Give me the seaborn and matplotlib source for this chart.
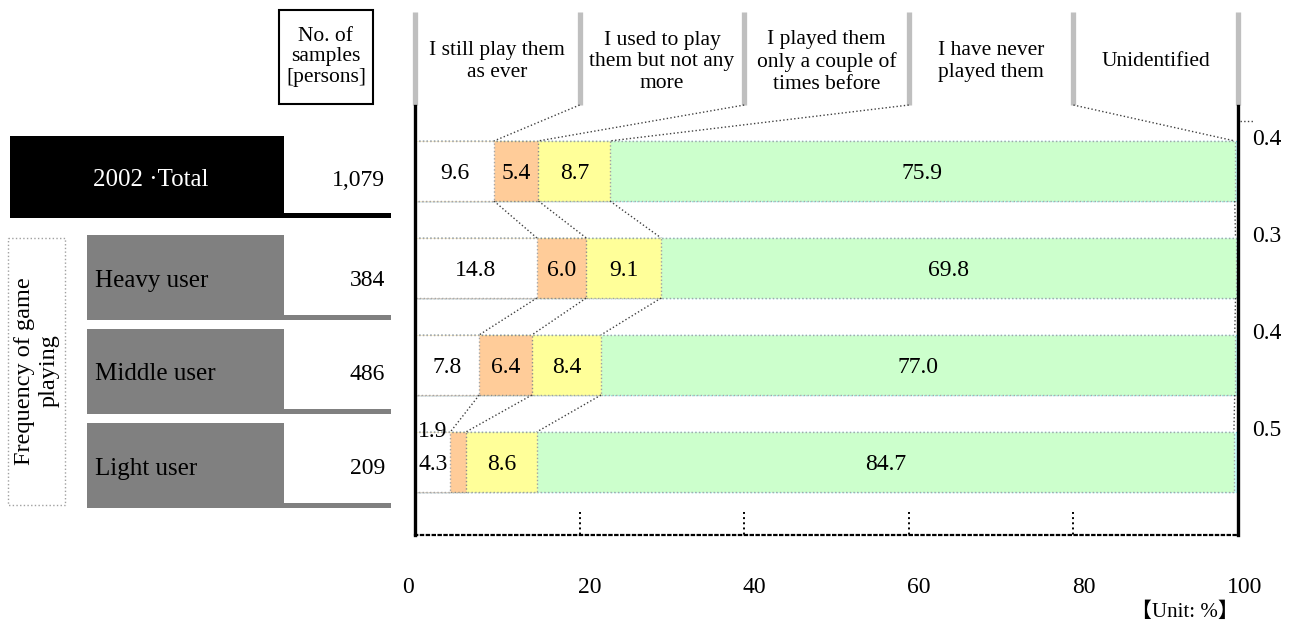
import numpy as np
import pandas as pd
import matplotlib
matplotlib.use("Agg")
import matplotlib.pyplot as plt
import matplotlib.transforms as mtransforms
from matplotlib.patches import Rectangle
import seaborn as sns

# ---- data -------------------------------------------------------------
groups = ["2002 \u00b7Total", "Heavy user", "Middle user", "Light user"]
n_samples = ["1,079", "384", "486", "209"]
responses = [
    "I still play them\nas ever",
    "I used to play\nthem but not any\nmore",
    "I played them\nonly a couple of\ntimes before",
    "I have never\nplayed them",
    "Unidentified",
]
still_play = [9.6, 14.8, 7.8, 4.3]
used_to_play = [5.4, 6.0, 6.4, 1.9]
couple_times = [8.7, 9.1, 8.4, 8.6]
never_played = [75.9, 69.8, 77.0, 84.7]
unidentified = [0.4, 0.3, 0.4, 0.5]
x_ticks = [0, 20, 40, 60, 80, 100]

seg_colors = ["#FFFFFF", "#FFCC99", "#FFFF99", "#CCFFCC", "#CCFFFF"]
edge_colors = ["#A6A6A6", "#8C8C8C", "#A0A0A0", "#A6A6A6", "#55C8E8"]

# ---- style ------------------------------------------------------------
sns.set_theme(style="white")
plt.rcParams["font.family"] = ["Liberation Serif", "Noto Sans CJK JP", "DejaVu Sans"]
plt.rcParams["text.color"] = "black"

W, H = 1294, 625
fig = plt.figure(figsize=(W / 100, H / 100), dpi=100)

# background layer in pixel units for the side panels
bg = fig.add_axes([0, 0, 1, 1])
bg.set_xlim(0, W)
bg.set_ylim(H, 0)
bg.axis("off")

ax = fig.add_axes([415 / W, 1 - 535 / H, 823 / W, 429 / H])
ax.patch.set_visible(False)

series = [still_play, used_to_play, couple_times, never_played, unidentified]
cum = np.cumsum(np.array(series), axis=0)
bar_w = 0.62
half = bar_w / 2

# stacked bars: draw cumulative totals from the widest down
for k in range(len(series) - 1, -1, -1):
    df = pd.DataFrame({"group": groups, "cum": cum[k]})
    sns.barplot(data=df, x="cum", y="group", orient="h", color=seg_colors[k],
                saturation=1, width=bar_w, errorbar=None, ax=ax,
                edgecolor=edge_colors[k], linewidth=1.0, linestyle=":", zorder=2)

ax.set_xlim(0, 100)
ax.set_ylim(3.753, -0.670)
ax.set_xlabel("")
ax.set_ylabel("")
ax.set_yticks([])
ax.set_xticks(x_ticks, labels=[str(t) for t in x_ticks])
ax.tick_params(axis="x", length=0, pad=30, labelsize=17, labelcolor="black")
for s in ["left", "right"]:
    ax.spines[s].set_color("black")
    ax.spines[s].set_linewidth(2.4)
ax.spines["top"].set_visible(False)
ax.spines["bottom"].set_color("black")
ax.spines["bottom"].set_linestyle(":")
ax.spines["bottom"].set_linewidth(1.6)

tick_shift = {0: -7, 20: 10, 40: 10, 60: 10, 80: 10, 100: 7}
for lab, t in zip(ax.get_xticklabels(), x_ticks):
    lab.set_transform(lab.get_transform() +
                      mtransforms.ScaledTranslation(tick_shift[t] / 100, 0, fig.dpi_scale_trans))

# short dotted gridline stubs above the axis
ax.vlines(x_ticks[1:-1], 3.515, 3.753, colors="black", linestyles=":", linewidth=1.4, zorder=3)

# header: grey dividers and category captions
head_top, head_bot = -1.639, -0.68
ax.vlines(x_ticks, head_top, head_bot, colors="#BFBFBF", linewidth=3.8, clip_on=False)
for k, txt in enumerate(responses):
    xc = (x_ticks[k] + x_ticks[k + 1]) / 2
    ax.text(xc, -1.125, txt, ha="center", va="center", fontsize=15.5,
            linespacing=1.2, clip_on=False)

# leader lines: header dividers to first bar, and bar-to-bar boundaries
dot_kw = dict(ls=":", color="#404040", lw=1.0, clip_on=False, zorder=4)
for k in range(4):
    ax.plot([x_ticks[k + 1], cum[k][0]], [head_bot, -half], **dot_kw)
    for i in range(len(groups) - 1):
        ax.plot([cum[k][i], cum[k][i + 1]], [i + half, i + 1 - half], **dot_kw)
ax.plot([100.2, 101.8], [-0.515, -0.515], **dot_kw)

# value labels
for i in range(len(groups)):
    start = 0.0
    for k in range(4):
        v = series[k][i]
        if v >= 3:
            ax.text(start + v / 2, i + 0.03, f"{v:.1f}", ha="center", va="center",
                    fontsize=17, zorder=5)
        else:
            ax.text(start - 2.1, i - 0.31, f"{v:.1f}", ha="center", va="center",
                    fontsize=17, zorder=5, clip_on=False)
        start += v
    ax.text(103.5, i - 0.32, f"{unidentified[i]:.1f}", ha="center", va="center",
            fontsize=17, clip_on=False)

# ---- left panel -------------------------------------------------------
rows = [(136, 218), (235, 320), (329, 414), (423, 508)]
for i, (g, n) in enumerate(zip(groups, n_samples)):
    y0, y1 = rows[i]
    face = "black" if i == 0 else "#808080"
    x0 = 10 if i == 0 else 87
    bg.add_patch(Rectangle((x0, y0), 284 - x0, y1 - y0, facecolor=face, edgecolor="none"))
    inset = 0 if i == 0 else 6
    bg.add_patch(Rectangle((x0 + inset, y1 - 5), 391 - x0 - inset, 5,
                           facecolor=face, edgecolor="none"))
    yc = (y0 + y1) / 2 + 3
    bg.text(93 if i == 0 else 95, yc, g, ha="left", va="center", fontsize=18,
            color="white" if i == 0 else "black")
    bg.text(385, yc, n, ha="right", va="center", fontsize=17)

bg.add_patch(Rectangle((8, 238), 57, 267, fill=False, edgecolor="#A0A0A0",
                       linestyle=":", linewidth=1.0))
bg.text(37, 371, "Frequency of game\nplaying", rotation=90, ha="center", va="center",
        fontsize=17.5, linespacing=1.25)

bg.add_patch(Rectangle((279, 10), 94, 94, fill=False, edgecolor="black", linewidth=1.5))
bg.text(326, 57, "No. of\nsamples\n[persons]", ha="center", va="center",
        fontsize=15.5, linespacing=1.1)

bg.text(1185, 612, "\u3010Unit: %\u3011", ha="center", va="center", fontsize=15)

fig.savefig("out.png", dpi=100)
